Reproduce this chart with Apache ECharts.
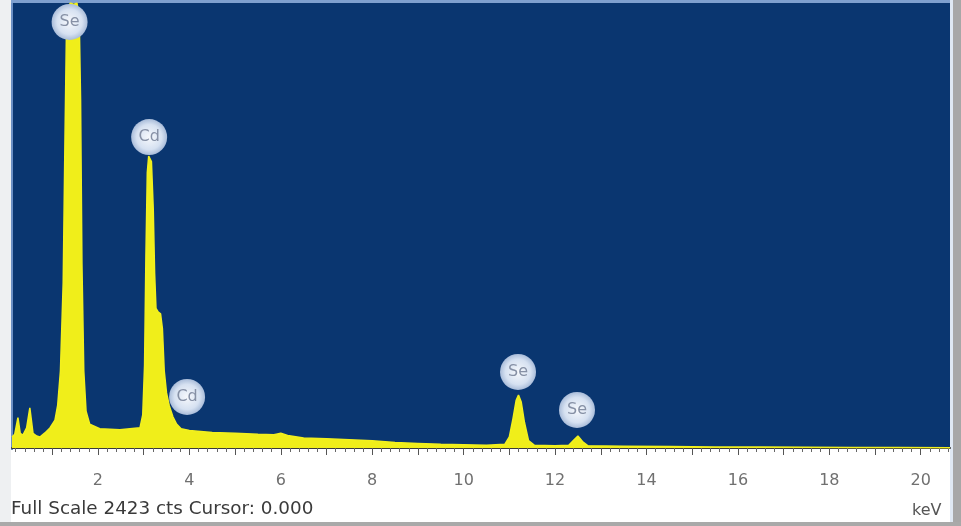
<!DOCTYPE html>
<html>
<head>
<meta charset="utf-8">
<title>EDS spectrum</title>
<script src="https://cdn.jsdelivr.net/npm/echarts@6/dist/echarts.min.js"></script>
<style>
  html, body { margin: 0; padding: 0; background: #ffffff; }
  #chart { width: 961px; height: 526px; }
</style>
</head>
<body>
<div id="chart"></div>
<script>
// Energy (keV) of each sampled channel
const energyKeV = [
  0.12, 0.18, 0.25, 0.30, 0.36, 0.44, 0.51, 0.58, 0.66, 0.73, 0.84, 0.95, 1.06, 1.12, 1.18,
  1.24, 1.28, 1.31, 1.34, 1.40, 1.47, 1.54, 1.59, 1.62, 1.65, 1.69, 1.74, 1.82, 2.04, 2.48, 2.92,
  2.98, 3.02, 3.05, 3.08, 3.11, 3.14, 3.17, 3.21, 3.24, 3.27, 3.32, 3.37, 3.41, 3.45, 3.50,
  3.56, 3.64, 3.72, 3.82, 4.00, 4.50, 5.00, 5.50, 5.85, 6.00, 6.15, 6.50, 7.00, 7.50, 8.00,
  8.50, 9.00, 9.50, 10.00, 10.50, 10.90, 11.00, 11.08, 11.15, 11.20, 11.26, 11.33, 11.42, 11.55, 12.00,
  12.30, 12.40, 12.50, 12.60, 12.72, 13.50, 14.50, 15.50, 16.50, 17.50, 18.50, 19.50, 20.64
];
// Counts per channel
const counts = [
  60, 75, 165, 80, 70, 110, 218, 80, 65, 60, 82, 109, 152, 234, 420,
  900, 1700, 2250, 2400, 2423, 2415, 2423, 2350, 1900, 1000, 420, 200, 130, 105, 100, 110,
  180, 450, 1050, 1500, 1590, 1595, 1560, 1300, 950, 760, 740, 730, 650, 420, 300,
  230, 170, 130, 105, 95, 85, 80, 75, 72, 80, 68, 55, 50, 45, 40,
  30, 25, 20, 18, 15, 20, 60, 160, 260, 289, 250, 140, 40, 15, 12,
  15, 40, 65, 35, 12, 10, 8, 6, 5, 4, 3, 3, 2
];
// Identified lines: element, energy (keV), counts at the label centre
const peakNames = ['Se', 'Cd', 'Cd', 'Se', 'Se'];
const peakEnergy = [1.38, 3.12, 3.95, 11.19, 12.48];
const peakLabelCounts = [2320, 1693, 278, 414, 207];

const tickLabels = [2, 4, 6, 8, 10, 12, 14, 16, 18, 20];
const fullScale = 2423;
const cursor = '0.000';
const axisRange = [0.12, 20.64];

const spectrum = energyKeV.map((e, i) => [e, counts[i]]);

// ruler ticks every 0.2 keV, longer ones every 1 keV
const minorTicks = [];
for (let t = 0.2; t <= axisRange[1]; t += 0.2) minorTicks.push(+t.toFixed(1));
const majorTicks = [];
for (let t = 1; t <= axisRange[1]; t += 1) majorTicks.push(t);

const chart = echarts.init(document.getElementById('chart'));

const labelMarks = peakNames.map((n, i) => ({
  name: n,
  coord: [peakEnergy[i], peakLabelCounts[i]]
}));

const textFont = '"DejaVu Sans", Verdana, sans-serif';

chart.setOption({
  animation: false,
  backgroundColor: '#ffffff',
  grid: {
    left: 12, right: 11, top: 3, bottom: 78,
    show: true,
    backgroundColor: '#0a3670',
    borderWidth: 0
  },
  xAxis: [{
    type: 'value',
    min: axisRange[0], max: axisRange[1],
    axisLine: { show: true, onZero: false, lineStyle: { color: '#3a3a3a', width: 2 } },
    axisTick: { show: true, inside: false, length: 4, customValues: minorTicks, lineStyle: { color: '#666', width: 1 } },
    axisLabel: {
      customValues: tickLabels,
      color: '#707070', fontFamily: textFont, fontSize: 16,
      margin: 25
    },
    splitLine: { show: false }
  }, {
    type: 'value',
    position: 'bottom',
    min: axisRange[0], max: axisRange[1],
    axisLine: { show: false },
    axisTick: { show: true, length: 7, customValues: majorTicks, lineStyle: { color: '#555', width: 1 } },
    axisLabel: { show: false },
    splitLine: { show: false }
  }],
  yAxis: {
    type: 'value', min: 0, max: fullScale,
    show: false, splitLine: { show: false }
  },
  series: [{
    type: 'line',
    data: spectrum,
    symbol: 'none',
    smooth: false,
    lineStyle: { color: '#f2f01e', width: 1.5 },
    areaStyle: { color: '#f0ee1a', opacity: 1 },
    z: 2,
    markPoint: {
      symbol: 'circle',
      symbolSize: 36,
      itemStyle: {
        color: {
          type: 'radial', x: 0.5, y: 0.5, r: 0.5,
          colorStops: [
            { offset: 0, color: '#f6f8fc' },
            { offset: 0.7, color: '#d6e1f1' },
            { offset: 1, color: '#a9bcd9' }
          ]
        }
      },
      label: {
        show: true,
        formatter: p => p.name,
        color: '#8690a5',
        fontFamily: textFont,
        fontSize: 16
      },
      data: labelMarks
    }
  }],
  graphic: [
    { type: 'rect', left: 0, top: 0, shape: { width: 11, height: 526 }, style: { fill: '#eef0f2' }, silent: true },
    { type: 'rect', left: 11, top: 0, shape: { width: 2, height: 450 }, style: { fill: '#6b8fc4' }, silent: true },
    { type: 'rect', left: 11, top: 0, shape: { width: 940, height: 3 }, style: { fill: '#7fa0cf' }, silent: true },
    { type: 'rect', left: 950, top: 0, shape: { width: 3, height: 526 }, style: { fill: '#dfe8f3' }, silent: true },
    { type: 'rect', left: 953, top: 0, shape: { width: 8, height: 526 }, style: { fill: '#a7a7a7' }, silent: true },
    { type: 'rect', left: 0, top: 522, shape: { width: 961, height: 4 }, style: { fill: '#a9a9a9' }, silent: true },
    {
      type: 'text', left: 11, top: 501, scaleX: 1.08,
      style: {
        text: 'Full Scale ' + fullScale + ' cts Cursor: ' + cursor,
        fill: '#3a3a3a', font: '17px ' + textFont
      }
    },
    {
      type: 'text', left: 912, top: 503,
      style: { text: 'keV', fill: '#555', font: '16px ' + textFont }
    }
  ]
});
</script>
</body>
</html>
